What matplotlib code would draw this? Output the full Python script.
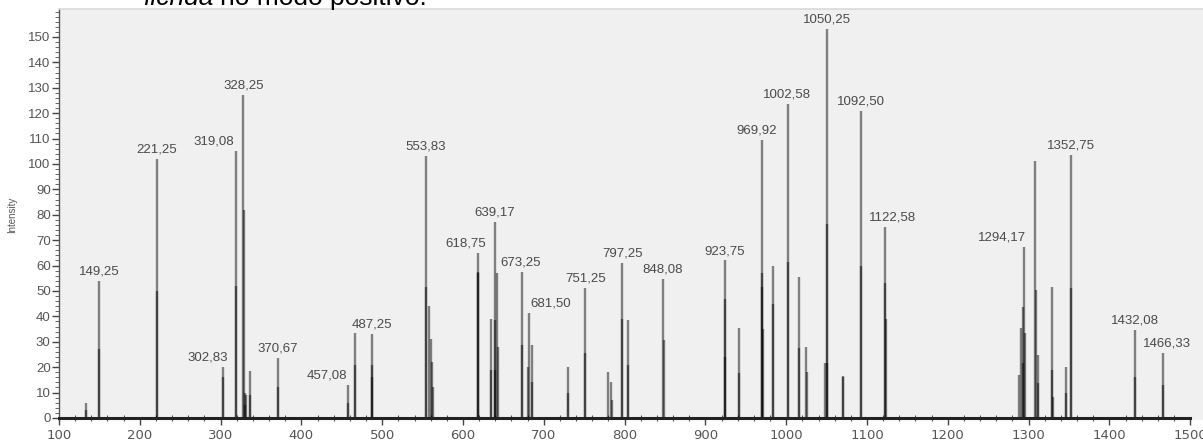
import matplotlib
matplotlib.use("Agg")
import matplotlib.pyplot as plt
from matplotlib.ticker import MultipleLocator

# ---------------- data ----------------
# every stem in the spectrum (overlapping stems at nearly identical m/z make the darker lower parts)
peak_mz = [
    133.4, 133.6,
    149.25, 149.4,
    221.25, 221.4,
    302.83, 303.0,
    319.08, 319.2,
    328.25, 328.4,
    330.0, 330.5, 331.5,
    336.0, 336.2,
    370.67, 370.8,
    457.08, 457.2,
    466.0, 466.2,
    487.25, 487.4, 487.6,
    553.83, 554.0,
    558.5, 561.0, 561.2, 563.0,
    618.75, 618.9, 619.0,
    635.0, 635.2,
    639.17, 639.3, 639.5,
    642.5, 642.7,
    673.25, 673.4,
    681.5, 681.0,
    685.0, 685.2,
    729.5, 729.7,
    751.25, 751.4,
    780.0, 782.7, 784.5,
    797.25, 797.4,
    804.6, 804.8,
    848.08, 848.2,
    923.75, 924.0, 924.2,
    942.0, 942.2,
    969.92, 970.1, 970.3, 971.5,
    983.7, 983.9,
    1002.58, 1002.8,
    1016.0, 1016.2,
    1025.0, 1025.2,
    1048.0,
    1050.25, 1050.4, 1050.1,
    1070.0, 1070.2,
    1092.5, 1092.7,
    1122.58, 1122.8, 1123.0,
    1288.5, 1290.2, 1292.6, 1292.8, 1294.17, 1295.9,
    1308.5, 1308.7,
    1312.0, 1312.2,
    1328.6, 1328.8, 1330.6,
    1345.9, 1346.1,
    1352.75, 1352.9,
    1432.08, 1432.2,
    1466.33, 1466.5,
]
peak_int = [
    6, 3,
    54, 27,
    102, 50,
    20, 16,
    105, 52,
    127, 82,
    10, 5, 9,
    18.5, 9,
    23.6, 12,
    13, 6,
    33.5, 21,
    33, 21, 16,
    103, 51.6,
    44, 31, 22, 12,
    65, 57.5, 57,
    39, 19,
    77, 38.6, 19,
    57, 28,
    57.6, 28.7,
    41.3, 20,
    28.7, 14,
    20, 10,
    51, 25.6,
    18, 14, 7,
    61, 39,
    38.6, 20.8,
    54.7, 30.7,
    62, 47, 24,
    35.4, 17.7,
    109.5, 57, 51.6, 35,
    60, 45,
    123.6, 61.5,
    55.6, 27.5,
    28, 18,
    21.6,
    153, 76.5, 21.6,
    16.5, 16,
    121, 60,
    75.3, 53, 39,
    17, 35.4, 43.8, 21.6, 67.4, 33.4,
    101, 50.4,
    24.8, 13.8,
    51.6, 19, 8.4,
    20.2, 9.8,
    103.5, 51,
    34.6, 16.3,
    25.6, 13,
]

# annotated peaks
label_mz = [149.25, 221.25, 302.83, 319.08, 328.25, 370.67, 457.08, 487.25,
            553.83, 618.75, 639.17, 673.25, 681.50, 751.25, 797.25, 848.08,
            923.75, 969.92, 1002.58, 1050.25, 1092.50, 1122.58, 1294.17,
            1352.75, 1432.08, 1466.33]
label_int = [54, 102, 20, 105, 127, 23.6, 13, 33, 103, 65, 77, 57.6, 41.3, 51,
             61, 54.7, 62, 109.5, 123.6, 153, 121, 75.3, 67.4, 103.5, 34.6, 25.6]
label_text = [f"{v:.2f}".replace(".", ",") for v in label_mz]
# horizontal nudge of each label (pixels), a style setting
label_dx = [0, 0, -15, -22, 0, 0, -21, 0, 0, -12, 0, -2, 22, 0, 0, -1,
            0, -5, -1, 0, 0, 7, -22, 0, 0, 4]

x_ticks = list(range(100, 1501, 100))
y_ticks = list(range(0, 151, 10))

# ---------------- figure ----------------
W, H = 1203, 446
fig = plt.figure(figsize=(W / 100, H / 100), dpi=100)
fig.patch.set_facecolor("white")
ax = fig.add_axes([59 / W, (H - 420) / H, 1 - 59 / W, (420 - 9) / H])
ax.set_facecolor("#f0f0f0")

ax.vlines(peak_mz, 0, peak_int, colors="black", alpha=0.47, linewidth=1.7)

for mz, it, txt, dx in zip(label_mz, label_int, label_text, label_dx):
    ax.annotate(txt, xy=(mz, it), xytext=(dx * 0.72, 2.5), textcoords="offset points",
                ha="center", va="bottom", fontsize=9.5, color="#4a4a4a",
                family="Liberation Sans")

ax.set_xlim(100, 100 + (W - 59) / 0.808)
ax.set_ylim(-0.8, 161)

ax.set_xticks(x_ticks)
ax.set_yticks(y_ticks)
ax.xaxis.set_minor_locator(MultipleLocator(20))
ax.yaxis.set_minor_locator(MultipleLocator(2))
for lab in ax.get_xticklabels() + ax.get_yticklabels():
    lab.set_family("Liberation Sans")
ax.tick_params(axis="both", which="major", labelsize=9.5, labelcolor="#555555",
               color="#444444")
ax.tick_params(axis="x", which="major", direction="out", length=5, width=1, pad=3)
ax.tick_params(axis="x", which="minor", direction="inout", length=4, width=0.8, color="#555555")
ax.tick_params(axis="y", which="major", direction="out", length=5, width=1, pad=1)
ax.tick_params(axis="y", which="minor", direction="out", length=3, width=0.7, color="#666666")

ax.spines["right"].set_visible(False)
ax.spines["top"].set_color("#d9d9d9")
ax.spines["top"].set_linewidth(1.2)
ax.spines["left"].set_color("#555555")
ax.spines["left"].set_linewidth(1.0)
ax.spines["bottom"].set_color("#222222")
ax.spines["bottom"].set_linewidth(2.2)
ax.spines["bottom"].set_bounds(100, 1500)
ax.spines["bottom"].set_position(("data", 0))

ax.set_ylabel("Intensity", fontsize=7, color="#555555", family="Liberation Sans", labelpad=8)

# caption fragment cut off at the top of the image
fig.text(143 / W, 1 - 5 / H, "ficnda", fontsize=19, style="italic",
         family="Liberation Sans", ha="left", va="baseline", color="black")
fig.text(220 / W, 1 - 5 / H, "no modo positivo.", fontsize=19,
         family="Liberation Sans", ha="left", va="baseline", color="black")

fig.savefig("out.png", dpi=100, facecolor=fig.get_facecolor())
